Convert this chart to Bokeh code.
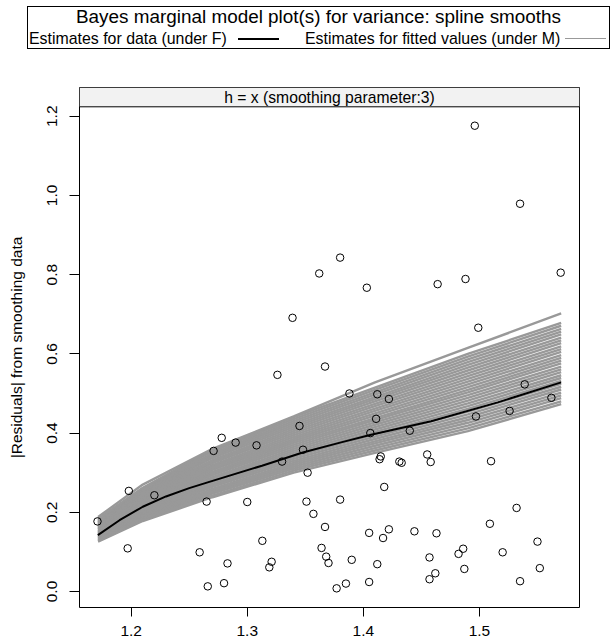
from bokeh.plotting import figure
from bokeh.layouts import column
from bokeh.models import Range1d, FixedTicker, PrintfTickFormatter, Div
from bokeh.core.properties import value
from bokeh.embed import file_html
from bokeh.resources import INLINE

FONT = "Liberation Sans"

# ---------------- data ----------------
title_text = "Bayes marginal model plot(s) for variance: spline smooths"
legend_data = "Estimates for data (under F)"
legend_fit = "Estimates for fitted values (under M)"
strip_label = "h = x (smoothing parameter:3)"
y_label = "|Residuals| from smoothing data"

x_ticks = [1.2, 1.3, 1.4, 1.5]
y_ticks = [0.0, 0.2, 0.4, 0.6, 0.8, 1.0, 1.2]

pt_x = [1.171, 1.198, 1.197, 1.220, 1.259, 1.266, 1.265, 1.271, 1.278, 1.280,
        1.283, 1.290, 1.300, 1.308, 1.313, 1.319, 1.321, 1.326, 1.330, 1.345,
        1.348, 1.352, 1.351, 1.357, 1.367, 1.367, 1.364, 1.368, 1.370, 1.377,
        1.380, 1.362, 1.339, 1.380, 1.496, 1.535, 1.403, 1.464, 1.488, 1.570,
        1.499, 1.388, 1.412, 1.422, 1.411, 1.406, 1.440, 1.497, 1.526, 1.539,
        1.562, 1.415, 1.414, 1.431, 1.433, 1.455, 1.458, 1.510, 1.418, 1.532,
        1.509, 1.405, 1.422, 1.417, 1.444, 1.463, 1.550, 1.520, 1.486, 1.482,
        1.457, 1.487, 1.552, 1.390, 1.412, 1.462, 1.457, 1.535, 1.385, 1.405]
pt_y = [0.177, 0.254, 0.109, 0.243, 0.099, 0.013, 0.227, 0.355, 0.388, 0.021,
        0.071, 0.376, 0.226, 0.369, 0.128, 0.061, 0.075, 0.547, 0.328, 0.418,
        0.358, 0.300, 0.227, 0.196, 0.568, 0.163, 0.110, 0.088, 0.072, 0.008,
        0.232, 0.803, 0.691, 0.843, 1.176, 0.979, 0.767, 0.776, 0.789, 0.805,
        0.666, 0.500, 0.498, 0.486, 0.436, 0.400, 0.406, 0.442, 0.456, 0.523,
        0.489, 0.341, 0.334, 0.328, 0.325, 0.346, 0.327, 0.329, 0.264, 0.211,
        0.171, 0.148, 0.157, 0.135, 0.152, 0.147, 0.126, 0.099, 0.108, 0.095,
        0.086, 0.057, 0.059, 0.080, 0.069, 0.046, 0.031, 0.026, 0.020, 0.024]

# black smooth (estimates for data)
data_x = [1.1713, 1.19, 1.21, 1.23, 1.25, 1.2659, 1.3127, 1.3478, 1.3808, 1.4066, 1.4584, 1.5158, 1.5704]
data_y = [0.1425, 0.180, 0.214, 0.240, 0.261, 0.2755, 0.3176, 0.351, 0.3765, 0.396, 0.430, 0.4775, 0.528]

# gray smooths (estimates for fitted values), read at these x positions
fit_x = [1.1715, 1.21, 1.27, 1.34, 1.41, 1.49, 1.5704]
fit_y = [
    [0.126, 0.178, 0.238, 0.300, 0.350, 0.405, 0.473],
    [0.128, 0.181, 0.242, 0.305, 0.356, 0.412, 0.480],
    [0.130, 0.184, 0.247, 0.310, 0.362, 0.419, 0.488],
    [0.132, 0.187, 0.251, 0.315, 0.368, 0.426, 0.495],
    [0.134, 0.190, 0.255, 0.320, 0.374, 0.433, 0.502],
    [0.136, 0.193, 0.259, 0.325, 0.379, 0.440, 0.510],
    [0.138, 0.196, 0.264, 0.330, 0.385, 0.447, 0.517],
    [0.140, 0.199, 0.268, 0.335, 0.391, 0.454, 0.524],
    [0.142, 0.202, 0.272, 0.340, 0.397, 0.461, 0.532],
    [0.144, 0.205, 0.277, 0.345, 0.403, 0.468, 0.539],
    [0.146, 0.208, 0.281, 0.350, 0.409, 0.475, 0.546],
    [0.148, 0.211, 0.285, 0.355, 0.415, 0.482, 0.554],
    [0.150, 0.214, 0.289, 0.360, 0.421, 0.489, 0.561],
    [0.152, 0.217, 0.294, 0.365, 0.427, 0.496, 0.568],
    [0.155, 0.220, 0.298, 0.370, 0.433, 0.503, 0.576],
    [0.157, 0.223, 0.302, 0.375, 0.438, 0.509, 0.583],
    [0.159, 0.226, 0.307, 0.380, 0.444, 0.516, 0.590],
    [0.161, 0.229, 0.311, 0.385, 0.450, 0.523, 0.597],
    [0.163, 0.232, 0.315, 0.390, 0.456, 0.530, 0.605],
    [0.165, 0.235, 0.319, 0.395, 0.462, 0.537, 0.612],
    [0.167, 0.238, 0.324, 0.400, 0.468, 0.544, 0.619],
    [0.169, 0.241, 0.328, 0.405, 0.474, 0.551, 0.627],
    [0.171, 0.244, 0.332, 0.410, 0.480, 0.558, 0.634],
    [0.173, 0.247, 0.337, 0.415, 0.486, 0.565, 0.641],
    [0.175, 0.250, 0.341, 0.420, 0.491, 0.572, 0.649],
    [0.177, 0.253, 0.345, 0.425, 0.497, 0.579, 0.656],
    [0.179, 0.256, 0.349, 0.430, 0.503, 0.586, 0.663],
    [0.181, 0.259, 0.354, 0.435, 0.509, 0.593, 0.671],
    [0.183, 0.262, 0.358, 0.440, 0.515, 0.600, 0.678],
    [0.188, 0.270, 0.360, 0.442, 0.528, 0.615, 0.702],
]

# ---------------- layout ----------------
W = 613
KEY_H = 50
H = 644 - KEY_H

x_lo, x_hi = 1.1555, 1.5862
y_lo, y_panel_hi = -0.0404, 1.2238
strip_px = 19.3
panel_px = 500.7
y_top = y_panel_hi + strip_px * (y_panel_hi - y_lo) / panel_px


def bar(left, top, width, height, color):
    return (f'<div style="position:absolute;z-index:5;left:{left}px;top:{top}px;width:{width}px;'
            f'height:{height}px;background-color:{color};"></div>')


def txt(left, top, width, size, lh, align, content):
    w = f"width:{width}px;" if width else ""
    return (f'<div style="position:absolute;z-index:1;left:{left}px;top:{top}px;{w}'
            f'text-align:{align};font-size:{size}px;line-height:{lh}px;white-space:nowrap;'
            f'background:transparent;">{content}</div>')


# key (legend) above the panel
key_html = (
    f'<div style="position:relative;width:{W}px;height:{KEY_H}px;font-family:\'{FONT}\';color:black;">'
    + txt(27, 6, 583, 18.9, 22, "center", title_text)
    + txt(29, 29, None, 15.9, 19, "left", legend_data)
    + txt(305, 29, None, 15.9, 19, "left", legend_fit)
    + bar(27, 6, 583, 1, "black")
    + bar(27, 48, 583, 1, "black")
    + bar(27, 6, 1, 43, "black")
    + bar(609, 6, 1, 43, "black")
    + bar(238, 38, 41, 2, "black")
    + bar(565, 38, 41, 1, "#999999")
    + '</div>'
)
key = Div(text=key_html, width=W, height=KEY_H, margin=(0, 0, 0, 0))

p = figure(width=W, height=H, x_range=Range1d(x_lo, x_hi), y_range=Range1d(y_lo, y_top),
           output_backend="svg", toolbar_location=None, title=None,
           min_border_left=79, min_border_right=34, min_border_top=37, min_border_bottom=37)
p.margin = (0, 0, 0, 0)
p.xgrid.visible = False
p.ygrid.visible = False
p.outline_line_color = "black"
p.outline_line_width = 1
p.outline_line_alpha = 1.0
p.background_fill_color = "white"
p.border_fill_color = "white"

# strip
p.quad(left=[x_lo], right=[x_hi], bottom=[y_panel_hi], top=[y_top],
       fill_color="#F2F2F2", line_color=None)
p.segment(x0=[x_lo], y0=[y_panel_hi], x1=[x_hi], y1=[y_panel_hi], line_color="black", line_width=1)
p.text(x=[(x_lo + x_hi) / 2], y=[(y_panel_hi + y_top) / 2], text=[strip_label],
       text_align="center", text_baseline="middle", text_font=value(FONT),
       text_font_size="15.7px", text_color="black")

# smooths
p.multi_line(xs=[fit_x] * len(fit_y), ys=fit_y, line_color="#999999", line_width=2.4)
p.line(data_x, data_y, line_color="black", line_width=2)

# points
p.scatter(pt_x, pt_y, marker="circle", size=7.5, fill_color=None, line_color="black", line_width=1)

for ax in (p.xaxis, p.yaxis):
    ax.axis_line_color = None
    ax.minor_tick_line_color = None
    ax.major_tick_in = 0
    ax.major_tick_line_color = "black"
    ax.major_label_text_font = FONT
    ax.major_label_text_font_size = "15.5px"
    ax.major_label_text_color = "black"
    ax.axis_label_text_font = FONT
    ax.axis_label_text_font_size = "15.5px"
    ax.axis_label_text_font_style = "normal"
    ax.axis_label_text_color = "black"
    ax.formatter = PrintfTickFormatter(format="%.1f")

p.xaxis.ticker = FixedTicker(ticks=x_ticks)
p.xaxis.major_tick_out = 9
p.xaxis.major_label_standoff = 9

p.yaxis.ticker = FixedTicker(ticks=y_ticks)
p.yaxis.major_tick_out = 10
p.yaxis.major_label_orientation = "vertical"
p.yaxis.major_label_standoff = 12
p.yaxis.axis_label = y_label
p.yaxis.axis_label_standoff = 20

layout = column(key, p, spacing=0)
open("out.html", "w").write(file_html(layout, INLINE))
